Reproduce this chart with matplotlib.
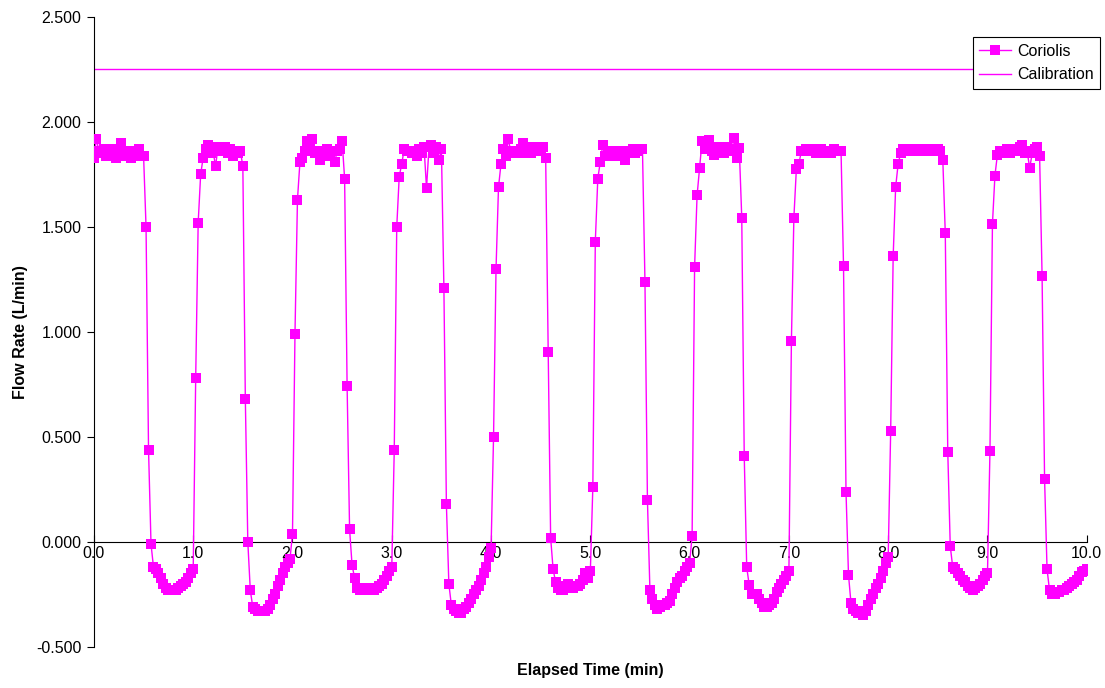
import numpy as np
import matplotlib
matplotlib.use("Agg")
import matplotlib.pyplot as plt

# =====================================================
# DATA (one list per minute)
# =====================================================

sample_step = 0.025  # min between Coriolis samples

cycle_0 = [1.83, 1.92, 1.86, 1.85, 1.87, 1.84, 1.86, 1.85, 1.87, 1.83,
           1.86, 1.90, 1.84, 1.86, 1.85, 1.83, 1.86, 1.85, 1.87, 1.84,
           1.84, 1.50, 0.44, -0.01, -0.12, -0.13, -0.15, -0.17, -0.20, -0.22,
           -0.23, -0.23, -0.23, -0.23, -0.22, -0.21, -0.20, -0.19, -0.17, -0.15]

cycle_1 = [-0.13, 0.78, 1.52, 1.75, 1.83, 1.87, 1.89, 1.85, 1.86, 1.79,
           1.88, 1.86, 1.87, 1.88, 1.85, 1.87, 1.84, 1.86, 1.85, 1.86,
           1.79, 0.68, 0.00, -0.23, -0.31, -0.32, -0.33, -0.33, -0.33, -0.33,
           -0.32, -0.30, -0.27, -0.25, -0.21, -0.18, -0.15, -0.12, -0.10, -0.08]

cycle_2 = [0.04, 0.99, 1.63, 1.81, 1.83, 1.86, 1.91, 1.87, 1.92, 1.85,
           1.86, 1.82, 1.86, 1.85, 1.87, 1.84, 1.86, 1.81, 1.86, 1.87,
           1.91, 1.73, 0.745, 0.06, -0.11, -0.17, -0.22, -0.23, -0.22, -0.23,
           -0.22, -0.22, -0.22, -0.23, -0.22, -0.21, -0.20, -0.18, -0.16, -0.14]

cycle_3 = [-0.12, 0.44, 1.50, 1.74, 1.80, 1.87, 1.86, 1.86, 1.85, 1.86,
           1.84, 1.87, 1.85, 1.88, 1.685, 1.88, 1.89, 1.85, 1.88, 1.82,
           1.87, 1.21, 0.18, -0.20, -0.30, -0.32, -0.33, -0.34, -0.34, -0.32,
           -0.31, -0.29, -0.27, -0.25, -0.23, -0.21, -0.18, -0.15, -0.12, -0.07]

cycle_4 = [-0.03, 0.50, 1.30, 1.69, 1.80, 1.87, 1.84, 1.92, 1.85, 1.86,
           1.85, 1.86, 1.87, 1.90, 1.85, 1.86, 1.85, 1.88, 1.86, 1.87,
           1.86, 1.88, 1.83, 0.905, 0.02, -0.13, -0.19, -0.22, -0.23, -0.23,
           -0.21, -0.20, -0.21, -0.22, -0.21, -0.21, -0.20, -0.18, -0.15, -0.17]

cycle_5 = [-0.14, 0.26, 1.43, 1.73, 1.81, 1.89, 1.84, 1.85, 1.86, 1.85,
           1.84, 1.86, 1.85, 1.86, 1.82, 1.85, 1.86, 1.87, 1.85, 1.86,
           1.87, 1.87, 1.24, 0.20, -0.23, -0.27, -0.30, -0.32, -0.31, -0.30,
           -0.30, -0.29, -0.28, -0.25, -0.22, -0.19, -0.17, -0.16, -0.14, -0.12]

cycle_6 = [-0.10, 0.03, 1.31, 1.65, 1.78, 1.91, 1.87, 1.89, 1.915, 1.86,
           1.845, 1.88, 1.86, 1.87, 1.85, 1.88, 1.86, 1.87, 1.925, 1.83,
           1.875, 1.545, 0.41, -0.12, -0.205, -0.25, -0.25, -0.25, -0.27, -0.29,
           -0.31, -0.31, -0.30, -0.29, -0.27, -0.24, -0.22, -0.20, -0.18, -0.16]

cycle_7 = [-0.14, 0.955, 1.545, 1.775, 1.80, 1.86, 1.86, 1.87, 1.86, 1.87,
           1.86, 1.85, 1.86, 1.87, 1.85, 1.86, 1.86, 1.85, 1.87, 1.86,
           1.86, 1.86, 1.315, 0.24, -0.156, -0.29, -0.32, -0.33, -0.34, -0.34,
           -0.35, -0.33, -0.30, -0.27, -0.25, -0.22, -0.20, -0.17, -0.14, -0.10]

cycle_8 = [-0.07, 0.53, 1.36, 1.69, 1.80, 1.85, 1.87, 1.86, 1.87, 1.86,
           1.86, 1.87, 1.86, 1.87, 1.87, 1.86, 1.87, 1.86, 1.87, 1.86,
           1.87, 1.86, 1.82, 1.47, 0.43, -0.02, -0.12, -0.13, -0.15, -0.16,
           -0.18, -0.19, -0.21, -0.22, -0.23, -0.22, -0.21, -0.20, -0.18, -0.16]

cycle_9 = [-0.15, 0.435, 1.515, 1.745, 1.845, 1.86, 1.85, 1.86, 1.87, 1.85,
           1.86, 1.87, 1.86, 1.88, 1.89, 1.85, 1.86, 1.78, 1.85, 1.87,
           1.88, 1.84, 1.265, 0.30, -0.13, -0.23, -0.25, -0.25, -0.24, -0.24,
           -0.23, -0.23, -0.22, -0.21, -0.20, -0.19, -0.18, -0.16, -0.145, -0.14,
           -0.13]

calibration_rate = 2.25

x_ticks = [0.0, 1.0, 2.0, 3.0, 4.0, 5.0, 6.0, 7.0, 8.0, 9.0, 10.0]
y_ticks = [-0.5, 0.0, 0.5, 1.0, 1.5, 2.0, 2.5]

# =====================================================
# BUILD SERIES
# =====================================================

flow = np.array(
    cycle_0 + cycle_1 + cycle_2 + cycle_3 + cycle_4
    + cycle_5 + cycle_6 + cycle_7 + cycle_8 + cycle_9
)
elapsed = np.arange(len(flow)) * sample_step

# =====================================================
# PLOT
# =====================================================

plt.rcParams["font.family"] = ["Liberation Sans", "DejaVu Sans"]

magenta = "#FF00FF"
font_size = 11.5

fig = plt.figure(figsize=(11.05, 6.88), dpi=100)
ax = fig.add_axes([0.085, 0.0596, 0.8985, 0.9157])

ax.plot(
    elapsed,
    flow,
    color=magenta,
    linewidth=1,
    marker="s",
    markersize=6.5,
    markeredgewidth=0,
    label="Coriolis",
    zorder=3
)

ax.plot(
    [x_ticks[0], x_ticks[-1]],
    [calibration_rate, calibration_rate],
    color=magenta,
    linewidth=1,
    label="Calibration",
    zorder=2
)

ax.set_xlim(0, 10)
ax.set_ylim(-0.5, 2.5)

ax.set_xticks(x_ticks)
ax.set_xticklabels([f"{v:.1f}" for v in x_ticks])
ax.set_yticks(y_ticks)
ax.set_yticklabels([f"{v:.3f}" for v in y_ticks])

ax.spines["top"].set_visible(False)
ax.spines["right"].set_visible(False)
ax.spines["bottom"].set_position(("data", 0))
ax.spines["bottom"].set_color("black")
ax.spines["left"].set_color("black")

ax.tick_params(axis="x", direction="in", length=5, pad=3,
               labelsize=font_size, colors="black")
ax.tick_params(axis="y", direction="out", length=5, pad=4,
               labelsize=font_size, colors="black")

ax.set_xlabel("Elapsed Time (min)", fontsize=font_size, fontweight="bold")
ax.set_ylabel("Flow Rate (L/min)", fontsize=font_size, fontweight="bold")
ax.xaxis.set_label_coords(0.5, -0.026)
ax.yaxis.set_label_coords(-0.066, 0.5)

leg = ax.legend(
    loc="upper right",
    bbox_to_anchor=(0.9955, 0.946),
    bbox_transform=fig.transFigure,
    fontsize=font_size,
    frameon=True,
    fancybox=False,
    framealpha=1,
    edgecolor="black",
    borderaxespad=0,
    handlelength=2.0,
    labelspacing=0.55,
    borderpad=0.4,
    handletextpad=0.35
)
leg.get_frame().set_linewidth(0.8)

plt.savefig("out.png", dpi=100)
